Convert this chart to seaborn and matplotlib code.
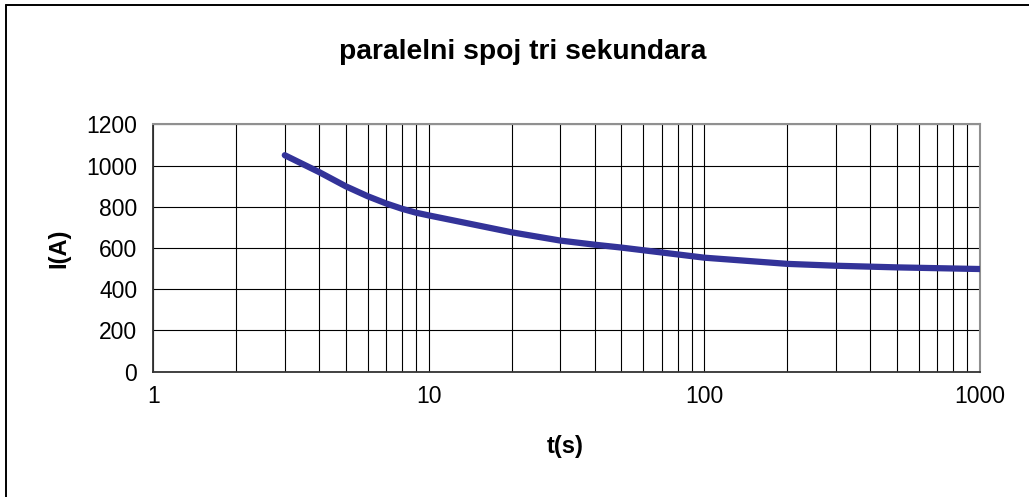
import matplotlib
matplotlib.use("Agg")
import matplotlib.pyplot as plt
import seaborn as sns
import pandas as pd
from matplotlib.ticker import FixedLocator, LogLocator, NullFormatter
from matplotlib.lines import Line2D

# data
t_s = [3, 4, 5, 6, 7, 8, 9, 10, 20, 30, 40, 50, 100, 200, 300, 500, 1000]
i_a = [1050, 968, 899, 851, 816, 790, 771, 758, 676, 636, 616, 602, 553, 523, 514, 506, 498]
x_ticks = [1, 10, 100, 1000]
x_tick_labels = ["1", "10", "100", "1000"]
y_ticks = [0, 200, 400, 600, 800, 1000, 1200]
y_tick_labels = ["0", "200", "400", "600", "800", "1000", "1200"]
title = "paralelni spoj tri sekundara"
x_label = "t(s)"
y_label = "I(A)"

sns.set_style("white")
plt.rcParams['font.family'] = ['Liberation Sans', 'DejaVu Sans']
plt.rcParams['text.color'] = 'black'

W, H = 1029, 497
fig = plt.figure(figsize=(W / 100, H / 100), dpi=100)
fig.patch.set_facecolor("white")
ax = fig.add_axes([153.3 / W, 1 - 371.7 / H, (980 - 153.3) / W, (371.7 - 124.3) / H])

df = pd.DataFrame({"t": t_s, "I": i_a})
sns.lineplot(data=df, x="t", y="I", ax=ax, color="#333399", linewidth=4.5,
             solid_capstyle="round", solid_joinstyle="round", zorder=5)

ax.set_xscale("log")
ax.set_xlim(1, 1000)
ax.set_ylim(0, 1200)
ax.xaxis.set_major_locator(FixedLocator(x_ticks))
ax.set_xticklabels(x_tick_labels)
ax.xaxis.set_minor_locator(LogLocator(base=10, subs=range(2, 10)))
ax.xaxis.set_minor_formatter(NullFormatter())
ax.set_yticks(y_ticks)
ax.set_yticklabels(y_tick_labels)

ax.grid(which="both", axis="x", color="black", linewidth=0.8)
ax.grid(which="major", axis="y", color="black", linewidth=0.8)
ax.set_axisbelow(True)

ax.tick_params(axis="both", which="major", direction="inout", length=9, width=1,
               color="#333333", labelsize=16.5, labelcolor="black")
ax.tick_params(axis="x", which="major", pad=5)
ax.tick_params(axis="y", which="major", pad=7)
ax.tick_params(axis="x", which="minor", direction="in", length=4, width=1, color="#333333")

for side in ["left", "bottom"]:
    ax.spines[side].set_color("#333333")
    ax.spines[side].set_linewidth(1.3)
    ax.spines[side].set_visible(True)
for side in ["top", "right"]:
    ax.spines[side].set_color("#909090")
    ax.spines[side].set_linewidth(1.5)
    ax.spines[side].set_visible(True)

ax.set_xlabel("")
ax.set_ylabel("")

fig.text(523 / W, 1 - 52 / H, title, ha="center", va="center", fontsize=20.3,
         fontweight="bold", color="black")
fig.text(565 / W, 1 - 447 / H, x_label, ha="center", va="center", fontsize=17,
         fontweight="bold", color="black")
fig.text(59 / W, 1 - 248 / H, y_label, ha="center", va="center", fontsize=17,
         fontweight="bold", color="black", rotation=90)

# outer chart-area border (top and left visible)
fig.add_artist(Line2D([5.5 / W, 1], [1 - 5 / H, 1 - 5 / H], transform=fig.transFigure,
                      color="black", linewidth=1.4))
fig.add_artist(Line2D([5.5 / W, 5.5 / W], [0, 1 - 5 / H], transform=fig.transFigure,
                      color="black", linewidth=1.4))

fig.savefig("out.png", dpi=100, facecolor="white")
